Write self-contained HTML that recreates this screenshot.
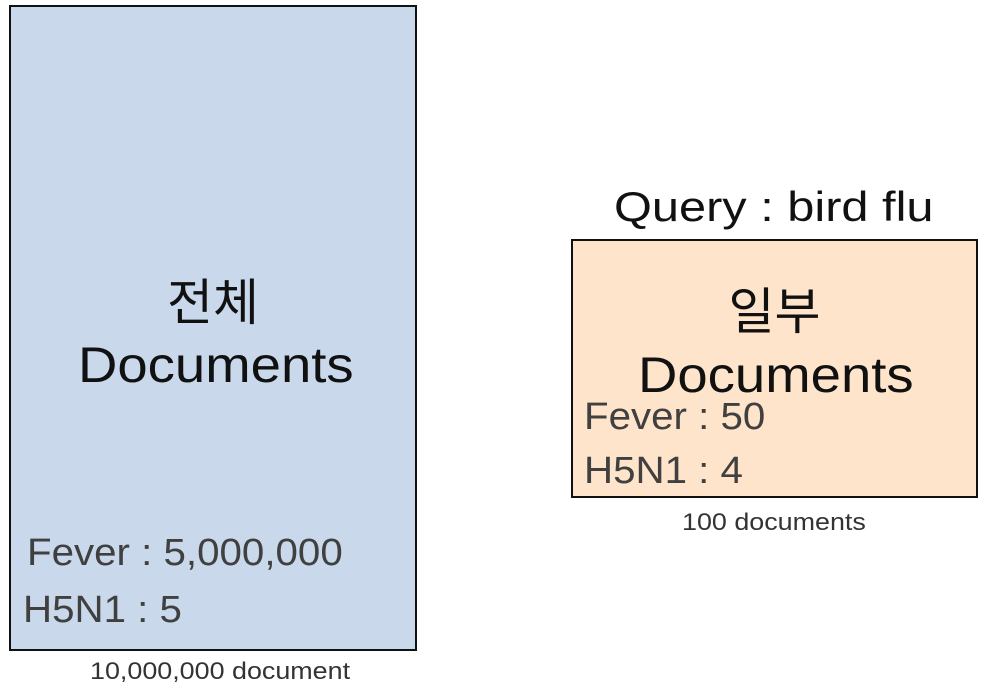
<!DOCTYPE html>
<html><head><meta charset="utf-8"><style>
body{margin:0;width:985px;height:698px;background:#fff;position:relative;overflow:hidden;font-family:"Liberation Sans","Noto Sans CJK KR",sans-serif}
.a{position:absolute;white-space:nowrap;transform-origin:0 0}
</style></head><body>
<div class="a" style="left:9px;top:5px;width:404px;height:642px;background:#c9d9eb;border:2px solid #111"></div>
<div class="a" style="left:9px;top:272px;width:408px;text-align:center;font-size:50px;line-height:62px;color:#111">전체</div>
<div class="a" style="left:78px;top:334px;font-size:50px;line-height:62px;color:#111;transform:scaleX(1.09)">Documents</div>
<div class="a" style="left:27px;top:532px;font-size:38px;color:#404040;transform:scaleX(1.06)">Fever : 5,000,000</div>
<div class="a" style="left:23px;top:589px;font-size:38px;color:#404040;transform:scaleX(1.06)">H5N1 : 5</div>
<div class="a" style="left:90px;top:658px;font-size:24px;color:#333;transform:scaleX(1.12)">10,000,000 document</div>

<div class="a" style="left:614px;top:183px;font-size:42px;color:#111;transform:scaleX(1.16)">Query : bird flu</div>
<div class="a" style="left:571px;top:239px;width:403px;height:255px;background:#fde4cb;border:2px solid #111"></div>
<div class="a" style="left:571px;top:280px;width:407px;text-align:center;font-size:50px;line-height:64px;color:#111">일부</div>
<div class="a" style="left:638px;top:343px;font-size:50px;line-height:64px;color:#111;transform:scaleX(1.09)">Documents</div>
<div class="a" style="left:584px;top:396px;font-size:38px;color:#404040;transform:scaleX(1.06)">Fever : 50</div>
<div class="a" style="left:584px;top:450px;font-size:38px;color:#404040;transform:scaleX(1.06)">H5N1 : 4</div>
<div class="a" style="left:682px;top:509px;font-size:24px;color:#333;transform:scaleX(1.12)">100 documents</div>
</body></html>
